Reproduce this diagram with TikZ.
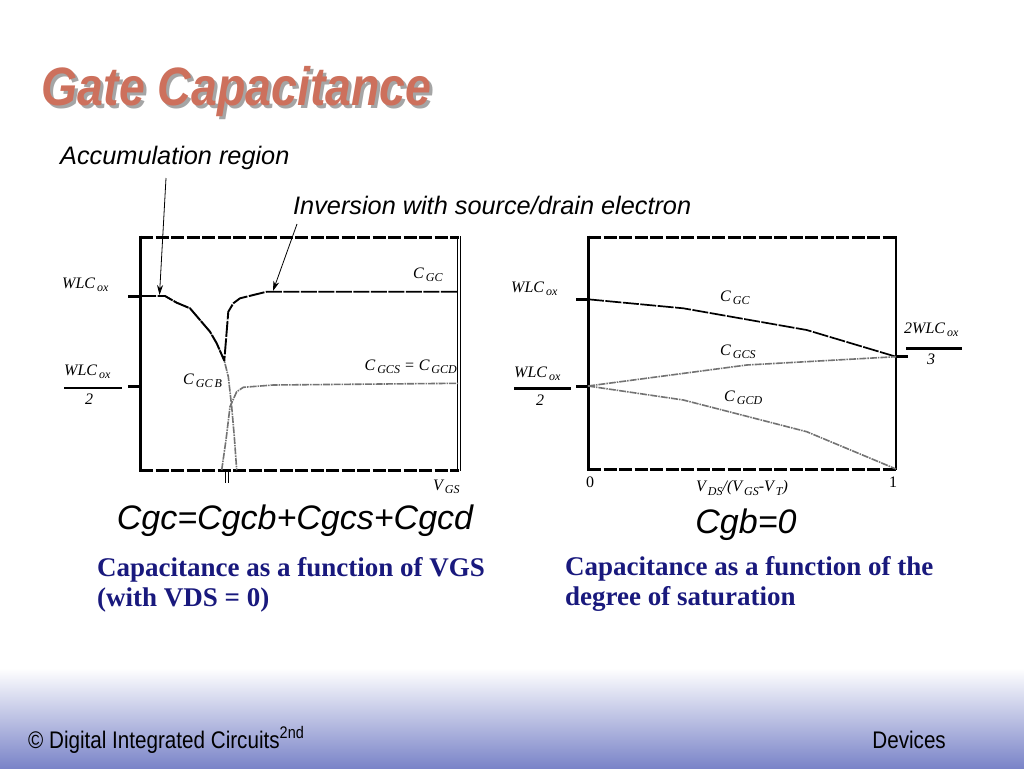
\documentclass[tikz,border=0pt]{standalone}
\usepackage{fontspec}
\setmainfont{Liberation Serif}
\newfontfamily\arial{Liberation Sans}
\usetikzlibrary{arrows.meta}
\definecolor{titlered}{RGB}{205,112,92}
\definecolor{titleshadow}{RGB}{165,165,165}
\definecolor{navy}{RGB}{25,25,125}
\definecolor{footblue}{RGB}{122,132,200}
\newcommand\sbs[1]{\raisebox{-3.2pt}{\fontsize{12}{12}\selectfont\,#1}}
\begin{document}
\begin{tikzpicture}[x=1pt,y=-1pt]
\tikzset{
  lab/.style={font=\fontsize{16}{16}\selectfont\itshape, inner sep=0pt},
  num/.style={font=\fontsize{16}{16}\selectfont, inner sep=0pt},
  framedash/.style={line width=3pt, dash pattern=on 13pt off 2.5pt},
  axisline/.style={line width=3pt},
  cgcline/.style={line width=1.9pt, dash pattern=on 16pt off 1.5pt, line join=round},
  cgsline/.style={line width=1.6pt, black!55, dash pattern=on 7pt off 1pt on 1.5pt off 1pt, line join=round},
  ann/.style={font=\arial\itshape\fontsize{25.3}{25.3}\selectfont, inner sep=0pt},
  formula/.style={font=\arial\itshape\fontsize{34}{34}\selectfont, inner sep=0pt},
  bluetext/.style={font=\bfseries\fontsize{27}{30}\selectfont, text=navy, inner sep=0pt, anchor=base west},
  foot/.style={font=\arial\fontsize{24}{24}\selectfont, inner sep=0pt},
  tip/.style={-{Stealth[length=10pt,width=6pt]}, line width=0.8pt},
  fracbar/.style={line width=2.5pt}
}
\useasboundingbox (0,0) rectangle (1024,768);
\fill[white] (0,0) rectangle (1024,768);
\shade[top color=white, bottom color=footblue] (0,668) rectangle (1024,768);

% title (with its shadow in the same node)
\node[font=\arial\bfseries\itshape\fontsize{54}{54}\selectfont, inner sep=0pt] (title) at (236.5,93.5)
  {\rlap{\hspace{3pt}\raisebox{-3pt}{\textcolor{titleshadow}{\scalebox{0.86}[1]{Gate Capacitance}}}}\textcolor{titlered}{\scalebox{0.86}[1]{Gate Capacitance}}};

% annotations
\node[ann, anchor=west] (acc) at (60,158) {Accumulation region};
\node[ann, anchor=west] (inv) at (293,205) {Inversion with source/drain electron};
\coordinate (accS) at (166,178);
\coordinate (accE) at (159.5,295);
\coordinate (invS) at (297,224);
\coordinate (invE) at (273,291);
\draw[tip] (accS) -- (accE);
\draw[tip] (invS) -- (invE);

% ---------- left plot ----------
\draw[framedash] (140,237) -- (459,237);
\draw[framedash] (140,470) -- (459,470);
\draw[axisline] (140.5,235.5) -- (140.5,471.5);
\draw[line width=0.9pt] (457.5,236) -- (457.5,471);
\draw[line width=0.9pt] (460,236) -- (460,471);
\draw[axisline] (128,296) -- (140,296);
\draw[axisline] (128,386) -- (140,386);
\draw[line width=0.9pt] (225.5,470) -- (225.5,483);
\draw[line width=0.9pt] (228,470) -- (228,483);

% C_GB curve
\draw[cgsline] (165,296) -- (176.7,302.7) -- (190,308.3) -- (200,320) -- (210,331.7) -- (216.7,343.3) -- (224.3,360.7) -- (228.3,376.7) -- (231.7,406.7) -- (234.3,436.7) -- (236.7,470);
% C_GCS curve
\draw[cgsline] (221.7,470) -- (226,440) -- (230,406.7) -- (236.7,391.7) -- (243.3,387.3) -- (273.3,385) -- (458,383.3);
% C_GC curve
\draw[cgcline] (140,296) -- (165,296) -- (176.7,302.7) -- (190,308.3) -- (200,320) -- (210,331.7) -- (216.7,343.3) -- (224.3,360.7) -- (228.3,311.7) -- (233.3,303.3) -- (240,298.3) -- (266.7,291.7) -- (458,291.7);

\node[lab, anchor=west] (lwlc) at (62,285) {WLC\sbs{ox}};
\node[lab, anchor=west] (lwlc2) at (64,372) {WLC\sbs{ox}};
\draw[fracbar] (64,388) -- (122,388);
\node[lab] (ltwo) at (89,399) {2};
\node[lab, anchor=west] (lcgc) at (413,275) {C\sbs{GC}};
\node[lab, anchor=east] (lcgs) at (457,367) {C\sbs{GCS} = C\sbs{GCD}};
\node[lab, anchor=west] (lcgb) at (183,381) {C\sbs{GC\,B}};
\node[lab, anchor=west] (lvgs) at (433,487) {V\sbs{GS}};

% ---------- right plot ----------
\draw[framedash] (588,237) -- (896,237);
\draw[framedash] (588,469) -- (896,469);
\draw[axisline] (588.5,235.5) -- (588.5,470.5);
\draw[line width=1.6pt] (896,236) -- (896,470);
\draw[axisline] (576,299.3) -- (588,299.3);
\draw[axisline] (576,386) -- (588,386);
\draw[axisline] (896,356.7) -- (908.3,356.7);

\draw[cgcline, line width=1.7pt] (588,299.3) -- (683.3,308.3) -- (806.7,330) -- (896,356.7);
\draw[cgsline] (588,386) -- (746.7,365) -- (896,356.7);
\draw[cgsline] (588,386) -- (683.3,400) -- (806.7,431.7) -- (896,469);

\node[lab, anchor=west] (rwlc) at (511,289) {WLC\sbs{ox}};
\node[lab, anchor=west] (rwlc2) at (514,374) {WLC\sbs{ox}};
\draw[fracbar] (514,388.3) -- (570.7,388.3);
\node[lab] (rtwo) at (540,400) {2};
\node[lab, anchor=west] (rtwlc) at (904,330) {2WLC\sbs{ox}};
\draw[fracbar] (906,348.3) -- (961.7,348.3);
\node[lab] (rthree) at (931,359) {3};
\node[lab, anchor=west] (rcgc) at (720,298) {C\sbs{GC}};
\node[lab, anchor=west] (rcgs) at (720,352) {C\sbs{GCS}};
\node[lab, anchor=west] (rcgd) at (724,398) {C\sbs{GCD}};
\node[num] (rzero) at (590,482) {0};
\node[num] (rone) at (893,482) {1};
\node[lab] (rxlab) at (742,488) {V\sbs{DS}/(V\sbs{GS}-V\sbs{T})};

% ---------- formulas and captions ----------
\node[formula] (f1) at (295,521) {Cgc=Cgcb+Cgcs+Cgcd};
\node[formula] (f2) at (746,525) {Cgb=0};
\node[bluetext] (c1a) at (97,576) {Capacitance as a function of VGS};
\node[bluetext] (c1b) at (97,606) {(with VDS = 0)};
\node[bluetext] (c2a) at (565,575) {Capacitance as a function of the};
\node[bluetext] (c2b) at (565,605) {degree of saturation};

% footer
\node[foot, anchor=base west] (fl) at (28,748) {\scalebox{0.86}[1]{© Digital Integrated Circuits\textsuperscript{2nd}}};
\node[foot, anchor=base east] (fr) at (946,748) {\scalebox{0.86}[1]{Devices}};
\end{tikzpicture}
\end{document}
